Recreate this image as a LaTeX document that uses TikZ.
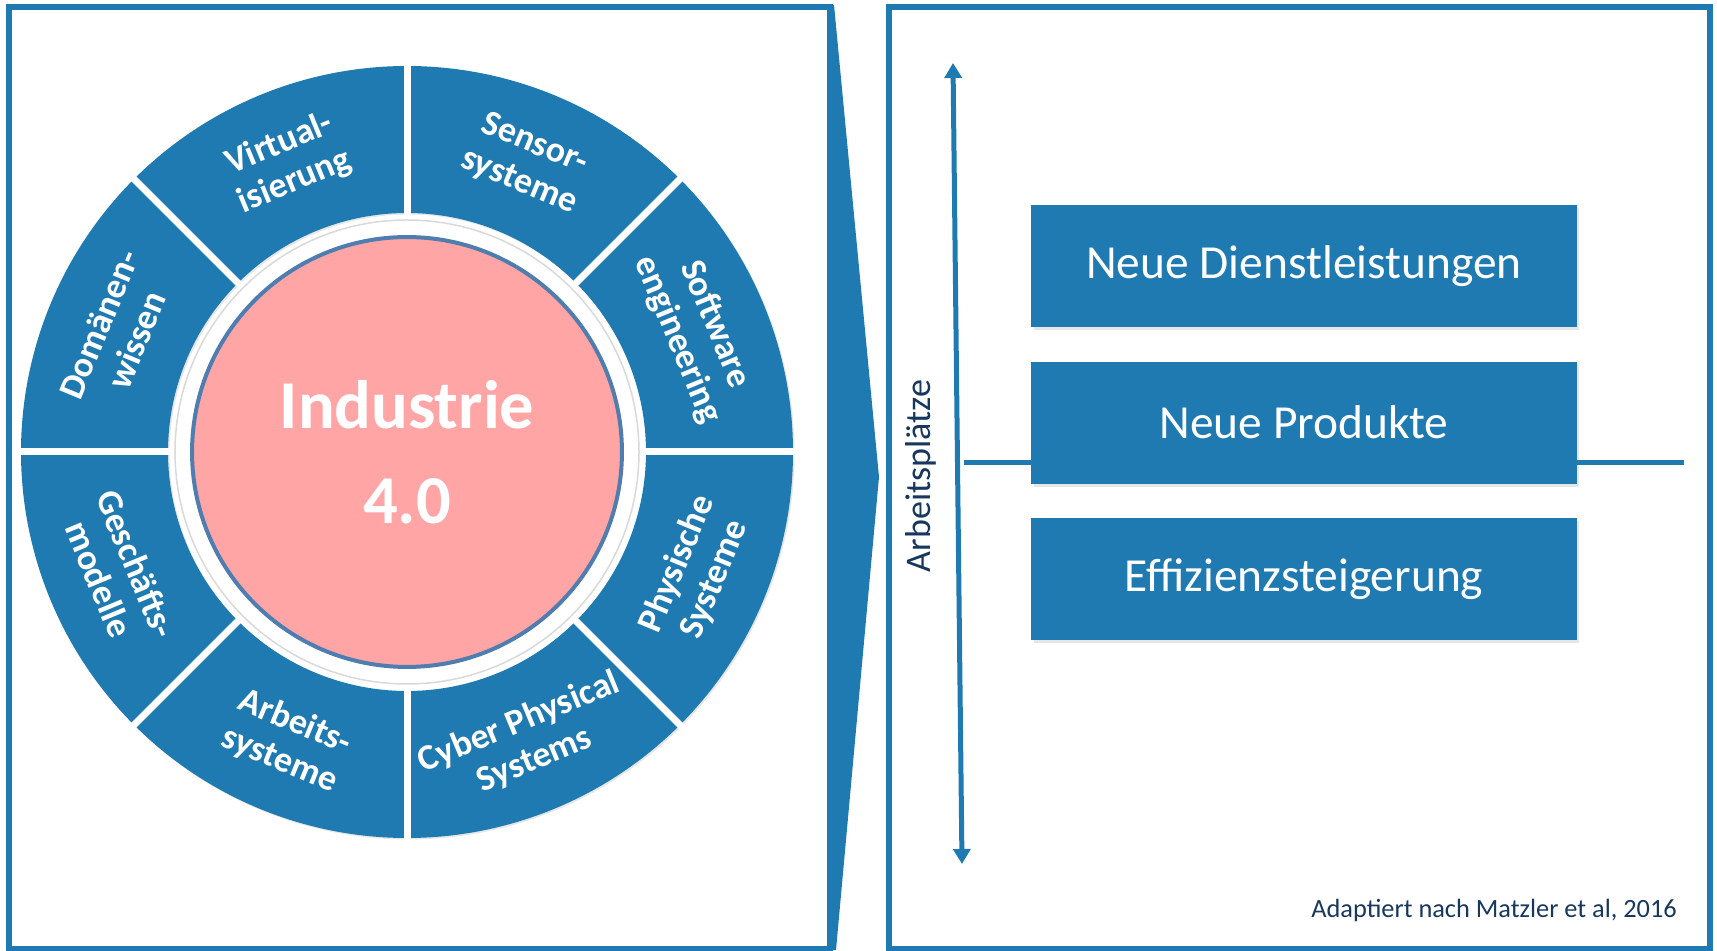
\documentclass[tikz,border=0pt]{standalone}
\usepackage{fontspec}
\setmainfont{Carlito}
\usetikzlibrary{arrows.meta,positioning,shadows}
\definecolor{segblue}{RGB}{31,122,178}
\definecolor{corepink}{RGB}{255,165,165}
\definecolor{coreline}{RGB}{79,125,175}
\definecolor{navytext}{RGB}{23,55,94}

\begin{document}
\begin{tikzpicture}[x=0.02cm,y=0.02cm,
    frame/.style={draw=segblue,line width=0.12cm},
    segment/.style={fill=segblue,drop shadow={shadow xshift=0.03cm,shadow yshift=-0.03cm,opacity=0.2}},
    divider/.style={white,line width=0.14cm},
    segtext/.style={text=white,font=\fontsize{20.5}{23}\selectfont\bfseries,align=center},
    core/.style={circle,fill=corepink,draw=coreline,line width=0.08cm,minimum size=8.6cm,text=white,font=\fontsize{39}{54}\selectfont\bfseries,align=center},
    effect/.style={rectangle,fill=segblue,minimum width=10.92cm,minimum height=2.44cm,text=white,font=\fontsize{27}{32}\selectfont,drop shadow={shadow xshift=0.05cm,shadow yshift=-0.06cm,opacity=0.2}},
    axis/.style={segblue,line width=0.1cm,{Triangle[length=0.3cm,width=0.34cm]}-{Triangle[length=0.3cm,width=0.34cm]}},
    level/.style={segblue,line width=0.1cm},
    note/.style={text=navytext,font=\fontsize{20.5}{24}\selectfont}
]
\useasboundingbox (0,0) rectangle (1717,950);

% Frames
\draw[frame] (9,1.5) rectangle (830,942.5);
\fill[segblue] (830,945) -- (834,945) -- (879,473) -- (836,0) -- (830,0) -- cycle;
\draw[frame] (889,1.5) rectangle (1710,942.5);

% Wheel
\begin{scope}[shift={(407,498)}]
\foreach \a in {0,45,...,315} {
    \fill[segment] (\a:239) arc[start angle=\a,end angle=\a+45,radius=239] -- (\a+45:386) arc[start angle=\a+45,end angle=\a,radius=386] -- cycle;
}
\foreach \a in {0,45,...,315} {
    \draw[divider] (\a:226) -- (\a:394);
}
\fill[white,draw=gray!30,line width=0.03cm] (0,0) circle[radius=232];
\node[core] (core) at (0,0) {Industrie\\4.0};

% Segment labels
\foreach \a/\r/\n/\t in {22.5/-67.5/software/{Software\\engineering},
    67.5/-22.5/sensor/{Sensor-\\systeme},
    112.5/22.5/virtual/{Virtual-\\isierung},
    157.5/67.5/domaene/{Domänen-\\wissen},
    202.5/-67.5/geschaeft/{Geschäfts-\\modelle},
    247.5/-22.5/arbeits/{Arbeits-\\systeme},
    292.5/22.5/cps/{Cyber Physical\\Systems},
    337.5/67.5/physisch/{Physische\\Systeme}} {
    \node[segtext,rotate=\r] (\n) at (\a:313) {\t};
}
\end{scope}

% Axis
\coordinate (axtop) at (953,887);
\coordinate (axbot) at (962,86);
\draw[axis] (axbot) -- (axtop);
\node[note,rotate=90] (arbeitsplatz) at (921,474) {Arbeitsplätze};

% Level line
\coordinate (lvlleft) at (964,487);
\coordinate (lvlright) at (1684,487);
\draw[level] (lvlleft) -- (lvlright);

% Effects
\node[effect] (dienst) at (1304,684) {Neue Dienstleistungen};
\node[effect,below=0.68cm of dienst] (produkt) {Neue Produkte};
\node[effect,below=0.68cm of produkt] (effizienz) {Effizienzsteigerung};

% Source
\node[note,font=\fontsize{15}{18}\selectfont,anchor=base east] (quelle) at (1683,33) {Adaptiert nach Matzler et al, 2016};

\end{tikzpicture}
\end{document}
